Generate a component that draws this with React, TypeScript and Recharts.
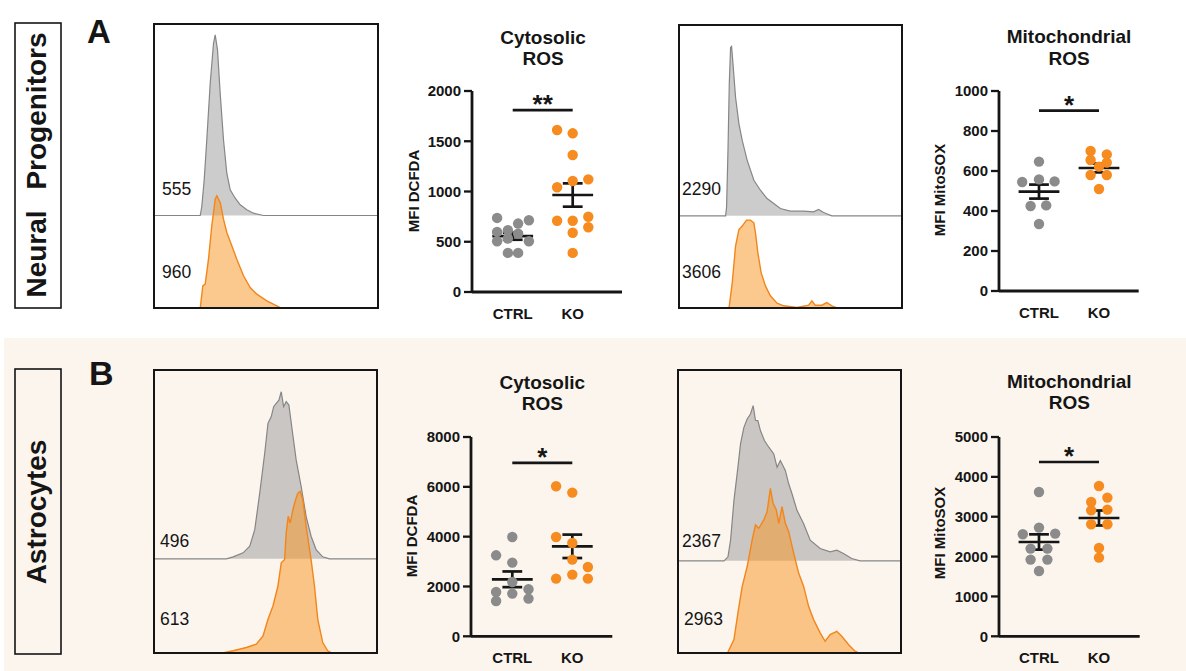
import React from 'react';
import { ScatterChart, Scatter, XAxis, YAxis, ReferenceLine, AreaChart, Area } from 'recharts';

const FONT = '"Liberation Sans", Arial, Helvetica, sans-serif';
const INK = '#151515';
const GRAY_DOT = '#8b8b8b';
const ORANGE_DOT = '#f68b1f';
const BEIGE = '#fcf5ee';

const groups = ['CTRL', 'KO'];
const rowLabels = ['Neural Progenitors', 'Astrocytes'];
const panelLetters = ['A', 'B'];
const titlesCyto = ['Cytosolic', 'ROS'];
const titlesMito = ['Mitochondrial', 'ROS'];
const yLabelCyto = 'MFI DCFDA';
const yLabelMito = 'MFI MitoSOX';

// ---------- A: Neural progenitors ----------
const npCytoTicks = [0, 500, 1000, 1500, 2000];
const npCytoCtrl = [737, 714, 681, 615, 598, 581, 532, 505, 505, 389, 389];
const npCytoCtrlJitter = [-0.26, 0.27, 0.09, -0.08, -0.26, 0.09, -0.08, -0.26, 0.27, -0.08, 0.09];
const npCytoKo = [1612, 1579, 1363, 1121, 1104, 1042, 749, 709, 709, 644, 590, 389];
const npCytoKoJitter = [-0.26, 0, 0, 0.26, 0, -0.26, 0.26, -0.26, 0, 0.26, 0, 0];
const npCytoMean = [555, 965];
const npCytoSem = [35, 116];
const npCytoSig = 1810;
const npCytoStars = '**';

const npMitoTicks = [0, 200, 400, 600, 800, 1000];
const npMitoCtrl = [647, 558, 548, 545, 428, 425, 335];
const npMitoCtrlJitter = [0, 0, 0.26, -0.28, 0.12, -0.14, 0];
const npMitoKo = [700, 683, 655, 642, 622, 580, 580, 510];
const npMitoKoJitter = [-0.14, 0.13, -0.14, 0.13, 0, -0.14, 0.13, 0];
const npMitoMean = [497, 615];
const npMitoSem = [35, 22];
const npMitoSig = 902;
const npMitoStars = '*';

// ---------- B: Astrocytes ----------
const asCytoTicks = [0, 2000, 4000, 6000, 8000];
const asCytoCtrl = [3986, 3251, 2958, 2180, 1887, 1778, 1714, 1513, 1417];
const asCytoCtrlJitter = [0, -0.27, 0, 0, 0.27, -0.27, 0, 0.27, -0.27];
const asCytoKo = [6021, 5768, 3986, 3745, 3079, 2782, 2476, 2316, 2316];
const asCytoKoJitter = [-0.27, 0, -0.27, 0, 0, 0.26, 0, -0.27, 0.26];
const asCytoMean = [2288, 3612];
const asCytoSem = [315, 470];
const asCytoSig = 6958;
const asCytoStars = '*';

const asMitoTicks = [0, 1000, 2000, 3000, 4000, 5000];
const asMitoCtrl = [3621, 2727, 2576, 2559, 2200, 2200, 1924, 1924, 1639];
const asMitoCtrlJitter = [0, 0, 0.27, -0.27, -0.14, 0.14, -0.14, 0.14, 0];
const asMitoKo = [3771, 3480, 3370, 3179, 3161, 2810, 2810, 2215, 1974];
const asMitoKoJitter = [0, 0.14, -0.13, 0.14, -0.13, -0.13, 0.14, 0, 0];
const asMitoMean = [2366, 2968];
const asMitoSem = [192, 188];
const asMitoSig = 4373;
const asMitoStars = '*';

// ---------- Histograms (channel, counts) ----------
const npCytoHistLabels = ['555', '960'];
const npCytoGrayX = [0, 46.7, 48.3, 50.7, 53.3, 56.7, 60, 61.7, 64, 66.7, 70, 73.3, 76.7, 81.7, 86.7, 93.3, 100, 110, 225];
const npCytoGrayH = [0, 0, 9, 35.7, 75.7, 132, 172, 180.7, 165.7, 122, 75.7, 42.3, 25.7, 17.3, 10.7, 5.7, 2.3, 0, 0];
const npCytoOrangeX = [0, 46.7, 49.3, 51.7, 55, 58.3, 61.7, 63.3, 66.7, 70, 73.3, 78.3, 83.3, 90, 96.7, 103.3, 113.3, 123.3, 128.3, 225];
const npCytoOrangeH = [0, 0, 22.7, 24.3, 49.3, 82.7, 109.3, 112.7, 106, 89.3, 76, 62.7, 49.3, 32.7, 21, 14.3, 7.7, 2.7, 0, 0];

const npMitoHistLabels = ['2290', '3606'];
const npMitoGrayX = [0, 47.3, 48.3, 49.7, 51, 52.3, 53.3, 55, 57.3, 60.7, 64, 69, 75.7, 82.3, 89, 95.7, 102.3, 112.3, 125.7, 135.7, 140.7, 145.7, 154, 225];
const npMitoGrayH = [0, 0, 9, 65.7, 132, 169, 170, 149, 119, 92.3, 75.7, 55.7, 35.7, 25.7, 17.3, 12.3, 7.3, 4.7, 4.7, 4, 6.3, 3.3, 0, 0];
const npMitoOrangeX = [0, 50.7, 54, 57.3, 60.7, 64, 68.3, 72.3, 75.7, 77.3, 79.7, 83, 87.3, 92.3, 99, 105.7, 119, 130.7, 134, 137.3, 144, 149, 154, 160.7, 225];
const npMitoOrangeH = [0, 0, 26, 62.7, 79.3, 82.7, 88.7, 88.7, 86, 76, 56, 36, 22.7, 12.7, 5.3, 2.7, 1, 3.3, 7.7, 3.3, 3.3, 6, 2.7, 0, 0];

const asCytoHistLabels = ['496', '613'];
const asCytoGrayX = [0, 73.3, 80, 90, 96.7, 101.7, 106.7, 111.7, 115, 118.3, 120.7, 123.3, 126, 128.3, 130.7, 133.3, 136, 139.3, 143.3, 148.3, 153.3, 158.3, 163.3, 170, 176.7, 225];
const asCytoGrayH = [0, 0, 2, 6, 12.7, 29.3, 66, 106, 136, 142.7, 152.7, 156, 159.3, 167.7, 152.7, 157.7, 154.3, 129.3, 99.3, 72.7, 42.7, 22.7, 9.3, 2, 0, 0];
const asCytoOrangeX = [0, 66.7, 80, 93.3, 103.3, 110, 115, 120, 125, 128.3, 131.7, 133.3, 135.3, 137.3, 140, 142.7, 145, 147.3, 150, 153.3, 158.3, 161.7, 165, 170, 175, 180, 225];
const asCytoOrangeH = [0, 0, 2.7, 6, 9.3, 17.7, 34.3, 47.7, 67.7, 91, 94.3, 121, 137.7, 131, 144.3, 154.3, 161, 162.7, 154.3, 127.7, 94.3, 67.7, 34.3, 11, 2.7, 0, 0];

const asMitoHistLabels = ['2367', '2963'];
const asMitoGrayX = [0, 46.7, 50.7, 53.3, 56.7, 60.7, 63.3, 66.7, 70, 73.3, 76, 78.3, 80.7, 83.3, 87.3, 91.7, 96.7, 100, 103.3, 108.3, 111.7, 115, 120, 126.7, 133.3, 143.3, 153.3, 160, 166.7, 175, 183.3, 225];
const asMitoGrayH = [0, 0, 4, 20.7, 60.7, 94, 117.3, 134, 142.3, 147.3, 155.7, 141, 140.7, 130.7, 120.7, 114, 107.3, 94, 100.7, 90.7, 77.3, 67.3, 50.7, 37.3, 20.7, 12.3, 9, 10.7, 7.3, 2.3, 0, 0];
const asMitoOrangeX = [0, 50, 56.7, 60.7, 65, 70, 75, 78.3, 81.7, 86.7, 90, 93.3, 96, 99.3, 101.7, 105, 108.3, 111.7, 116.7, 121.7, 126.7, 131.7, 136.7, 143.3, 148.3, 153.3, 160, 165, 171.7, 178.3, 183.3, 225];
const asMitoOrangeH = [0, 0, 14, 40.7, 67.3, 87.3, 114, 129, 125.7, 134, 142.3, 165.7, 150.7, 144, 130.7, 147.3, 130.7, 122.3, 100.7, 80.7, 67.3, 47.3, 34, 20.7, 12.3, 19, 22.3, 17.3, 9, 2.3, 0, 0];

// ---------- components ----------
const dotShape = (fill: string) => (p: any) => <circle cx={p.cx} cy={p.cy} r={5.2} fill={fill} />;

function DotPanel(props: any) {
  const { axisX, plotTop, plotBottom, plotRight, ctrlX, yMax, ticks, ctrl, ctrlJit, ko, koJit, mean, sem, sigY, stars } = props;
  const YW = 70, MT = 14, XH = 40, MR = 8;
  const unit = 60;
  const width = plotRight - axisX + YW + MR;
  const height = plotBottom - plotTop + MT + XH;
  const domain = [-(ctrlX - axisX) / unit, (plotRight - ctrlX) / unit];
  const ctrlData = ctrl.map((v: number, i: number) => ({ x: ctrlJit[i], y: v }));
  const koData = ko.map((v: number, i: number) => ({ x: 1 + koJit[i], y: v }));
  const MW = 0.34, CW = 0.165;
  const lineProps = { stroke: INK, strokeWidth: 2.7, ifOverflow: 'visible' as const };
  const refs: any[] = [];
  [0, 1].forEach((g) => {
    refs.push(<ReferenceLine key={'m' + g} segment={[{ x: g - MW, y: mean[g] }, { x: g + MW, y: mean[g] }]} {...lineProps} />);
    refs.push(<ReferenceLine key={'v' + g} segment={[{ x: g, y: mean[g] - sem[g] }, { x: g, y: mean[g] + sem[g] }]} {...lineProps} />);
    refs.push(<ReferenceLine key={'t' + g} segment={[{ x: g - CW, y: mean[g] + sem[g] }, { x: g + CW, y: mean[g] + sem[g] }]} {...lineProps} />);
    refs.push(<ReferenceLine key={'b' + g} segment={[{ x: g - CW, y: mean[g] - sem[g] }, { x: g + CW, y: mean[g] - sem[g] }]} {...lineProps} />);
  });
  refs.push(<ReferenceLine key="sig" segment={[{ x: 0, y: sigY }, { x: 1, y: sigY }]} {...lineProps} />);
  const tickStyle = { fill: INK, fontSize: 15, fontWeight: 700, fontFamily: FONT };
  return (
    <div style={{ position: 'absolute', left: axisX - YW, top: plotTop - MT }}>
      <ScatterChart width={width} height={height} margin={{ top: MT, right: MR, bottom: 0, left: 0 }}>
        <XAxis
          type="number" dataKey="x" domain={domain} ticks={[0, 1]} allowDataOverflow interval={0}
          tickFormatter={(v: number) => groups[Math.round(v)]} height={XH} tickLine={false}
          tickSize={6} tickMargin={10} axisLine={{ stroke: INK, strokeWidth: 2.8 }}
          tick={{ ...tickStyle, fontSize: 15 }}
        />
        <YAxis
          type="number" dataKey="y" domain={[0, yMax]} ticks={ticks} width={YW} interval={0} allowDataOverflow
          tickSize={8} tickMargin={3} axisLine={{ stroke: INK, strokeWidth: 2.8 }}
          tickLine={{ stroke: INK, strokeWidth: 2.3 }} tick={tickStyle}
        />
        <Scatter data={ctrlData} isAnimationActive={false} shape={dotShape(GRAY_DOT)} />
        <Scatter data={koData} isAnimationActive={false} shape={dotShape(ORANGE_DOT)} />
        {refs}
        <Scatter
          data={[{ x: 0.5, y: sigY }]} isAnimationActive={false}
          shape={(p: any) => (
            <text x={p.cx} y={p.cy + 3} textAnchor="middle" fontSize={26} fontWeight={700} fontFamily={FONT} fill={INK}>{stars}</text>
          )}
        />
      </ScatterChart>
    </div>
  );
}

function HistPanel(props: any) {
  const { left, top, width, height, base, grayX, grayH, orangeX, orangeH } = props;
  const iw = width - 4, ih = height - 4;
  const gray = grayX.map((x: number, i: number) => ({ x, y: base + grayH[i] }));
  const orange = orangeX.map((x: number, i: number) => ({ x, y: orangeH[i] }));
  const m = { top: 0, right: 0, bottom: 0, left: 0 };
  return (
    <div style={{ position: 'absolute', left, top, width: iw, height: ih, border: `2px solid ${INK}`, overflow: 'hidden' }}>
      <div style={{ position: 'absolute', left: 0, top: 0 }}>
        <AreaChart width={iw} height={ih} data={gray} margin={m}>
          <XAxis type="number" dataKey="x" domain={[1.5, 223.5]} hide allowDataOverflow />
          <YAxis type="number" domain={[1.5, 283.5]} hide allowDataOverflow />
          <Area type="linear" dataKey="y" baseValue={base} stroke="#868686" strokeWidth={1.2}
            fill="#8f8f8f" fillOpacity={0.45} isAnimationActive={false} dot={false} activeDot={false} />
        </AreaChart>
      </div>
      <div style={{ position: 'absolute', left: 0, top: 0 }}>
        <AreaChart width={iw} height={ih} data={orange} margin={m}>
          <XAxis type="number" dataKey="x" domain={[1.5, 223.5]} hide allowDataOverflow />
          <YAxis type="number" domain={[1.5, 283.5]} hide allowDataOverflow />
          <Area type="linear" dataKey="y" baseValue={0} stroke="#f2861a" strokeWidth={1.4}
            fill="#f7941d" fillOpacity={0.5} isAnimationActive={false} dot={false} activeDot={false} />
        </AreaChart>
      </div>
    </div>
  );
}

export default function App() {
  const tb = { fontFamily: FONT, fontWeight: 700, fill: INK } as any;
  const tn = { fontFamily: FONT, fontWeight: 400, fill: INK } as any;
  return (
    <div style={{ position: 'absolute', left: 0, top: 0, width: 1186, height: 671, background: '#fff', overflow: 'hidden' }}>
      <div style={{ position: 'absolute', left: 4, top: 338, width: 1182, height: 333, background: BEIGE }} />

      <HistPanel left={153} top={23} width={226} height={286} base={93}
        grayX={npCytoGrayX} grayH={npCytoGrayH} orangeX={npCytoOrangeX} orangeH={npCytoOrangeH} />
      <HistPanel left={678} top={24} width={225} height={285} base={93}
        grayX={npMitoGrayX} grayH={npMitoGrayH} orangeX={npMitoOrangeX} orangeH={npMitoOrangeH} />
      <HistPanel left={153} top={369} width={225} height={285} base={95}
        grayX={asCytoGrayX} grayH={asCytoGrayH} orangeX={asCytoOrangeX} orangeH={asCytoOrangeH} />
      <HistPanel left={677} top={369} width={225} height={285} base={93}
        grayX={asMitoGrayX} grayH={asMitoGrayH} orangeX={asMitoOrangeX} orangeH={asMitoOrangeH} />

      <DotPanel axisX={472} plotTop={91} plotBottom={292} plotRight={622} ctrlX={512.7} yMax={2000} ticks={npCytoTicks}
        ctrl={npCytoCtrl} ctrlJit={npCytoCtrlJitter} ko={npCytoKo} koJit={npCytoKoJitter}
        mean={npCytoMean} sem={npCytoSem} sigY={npCytoSig} stars={npCytoStars} />
      <DotPanel axisX={999.3} plotTop={91} plotBottom={291} plotRight={1139} ctrlX={1039.3} yMax={1000} ticks={npMitoTicks}
        ctrl={npMitoCtrl} ctrlJit={npMitoCtrlJitter} ko={npMitoKo} koJit={npMitoKoJitter}
        mean={npMitoMean} sem={npMitoSem} sigY={npMitoSig} stars={npMitoStars} />
      <DotPanel axisX={470.7} plotTop={436.7} plotBottom={636} plotRight={612} ctrlX={512} yMax={8000} ticks={asCytoTicks}
        ctrl={asCytoCtrl} ctrlJit={asCytoCtrlJitter} ko={asCytoKo} koJit={asCytoKoJitter}
        mean={asCytoMean} sem={asCytoSem} sigY={asCytoSig} stars={asCytoStars} />
      <DotPanel axisX={999.3} plotTop={436.7} plotBottom={636} plotRight={1140} ctrlX={1039.3} yMax={5000} ticks={asMitoTicks}
        ctrl={asMitoCtrl} ctrlJit={asMitoCtrlJitter} ko={asMitoKo} koJit={asMitoKoJitter}
        mean={asMitoMean} sem={asMitoSem} sigY={asMitoSig} stars={asMitoStars} />

      <svg width={1186} height={671} style={{ position: 'absolute', left: 0, top: 0, pointerEvents: 'none' }}>
        <rect x={15} y={23} width={46} height={285} fill="none" stroke={INK} strokeWidth={1.6} />
        <rect x={15} y={369} width={46} height={285} fill="none" stroke={INK} strokeWidth={1.6} />
        <text transform="translate(46,165) rotate(-90)" textAnchor="middle" fontSize={28} style={{ wordSpacing: 13 }} {...tb}>{rowLabels[0]}</text>
        <text transform="translate(46,512) rotate(-90)" textAnchor="middle" fontSize={28} {...tb}>{rowLabels[1]}</text>
        <text x={87} y={43} fontSize={33} {...tb}>{panelLetters[0]}</text>
        <text x={89} y={385} fontSize={34} {...tb}>{panelLetters[1]}</text>

        <text x={543} y={43.5} textAnchor="middle" fontSize={19} {...tb}>{titlesCyto[0]}</text>
        <text x={543} y={65} textAnchor="middle" fontSize={19} {...tb}>{titlesCyto[1]}</text>
        <text x={1069} y={43} textAnchor="middle" fontSize={19} {...tb}>{titlesMito[0]}</text>
        <text x={1069} y={64.5} textAnchor="middle" fontSize={19} {...tb}>{titlesMito[1]}</text>
        <text x={542.3} y={389.3} textAnchor="middle" fontSize={19} {...tb}>{titlesCyto[0]}</text>
        <text x={542.3} y={410} textAnchor="middle" fontSize={19} {...tb}>{titlesCyto[1]}</text>
        <text x={1069.3} y={388.3} textAnchor="middle" fontSize={19} {...tb}>{titlesMito[0]}</text>
        <text x={1069.3} y={409.3} textAnchor="middle" fontSize={19} {...tb}>{titlesMito[1]}</text>

        <text transform="translate(419,191) rotate(-90)" textAnchor="middle" fontSize={15} {...tb}>{yLabelCyto}</text>
        <text transform="translate(945,190) rotate(-90)" textAnchor="middle" fontSize={15} {...tb}>{yLabelMito}</text>
        <text transform="translate(417,536) rotate(-90)" textAnchor="middle" fontSize={15} {...tb}>{yLabelCyto}</text>
        <text transform="translate(945,533) rotate(-90)" textAnchor="middle" fontSize={15} {...tb}>{yLabelMito}</text>

        <text x={162} y={195} fontSize={17.5} {...tn}>{npCytoHistLabels[0]}</text>
        <text x={162} y={278} fontSize={17.5} {...tn}>{npCytoHistLabels[1]}</text>
        <text x={682} y={195} fontSize={17.5} {...tn}>{npMitoHistLabels[0]}</text>
        <text x={682} y={278} fontSize={17.5} {...tn}>{npMitoHistLabels[1]}</text>
        <text x={160} y={547} fontSize={17.5} {...tn}>{asCytoHistLabels[0]}</text>
        <text x={160} y={625} fontSize={17.5} {...tn}>{asCytoHistLabels[1]}</text>
        <text x={682} y={547} fontSize={17.5} {...tn}>{asMitoHistLabels[0]}</text>
        <text x={684} y={625} fontSize={17.5} {...tn}>{asMitoHistLabels[1]}</text>
      </svg>
    </div>
  );
}
